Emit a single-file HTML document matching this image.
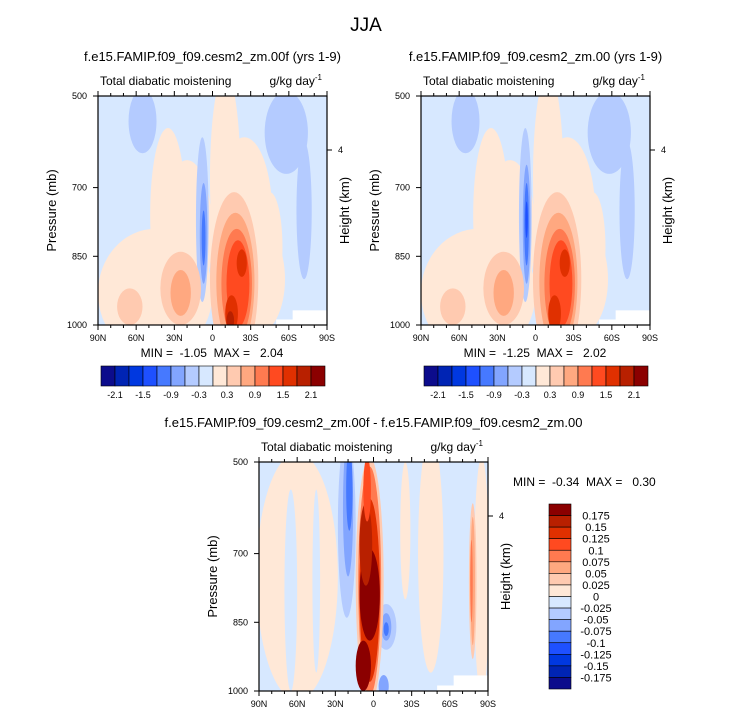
<!DOCTYPE html>
<html><head><meta charset="utf-8">
<style>
body{margin:0;background:#fff;}
svg{display:block;font-family:"Liberation Sans",sans-serif;}
</style></head>
<body>
<svg id="fig" width="733" height="716" viewBox="0 0 733 716">
<text x="366" y="31" font-size="19" text-anchor="middle">JJA</text>
</svg>
<script>
const NS='http://www.w3.org/2000/svg';
const fig=document.getElementById('fig');
const levelColors=['#0c0c8c','#0024b4','#0038e0','#1e50ff','#4679ff','#82a5ff','#b4cbff','#d7e8ff','#ffe8d7','#ffcab0','#ffa880','#ff7a50','#ff4a20','#e03000','#b82000','#8b0000'];
const topLabels=['-2.1','-1.5','-0.9','-0.3','0.3','0.9','1.5','2.1'];
const diffLabels=['0.175','0.15','0.125','0.1','0.075','0.05','0.025','0','-0.025','-0.05','-0.075','-0.1','-0.125','-0.15','-0.175'];
const latTicks=[90,60,30,0,-30,-60,-90];
const latTickLabels=['90N','60N','30N','0','30S','60S','90S'];
const presTicks=[500,700,850,1000];
// blobs: [lat, pressure, halfWidthDeg, halfHeightMb, level]
const blobsA=[[45,930,45,140,8],[35,760,14,190,8],[20,800,20,160,8],[-10,680,12,230,8],[-35,900,22,120,8],[-25,760,22,170,8],[-45,830,10,120,8],
[55,555,11,70,6],[-58,580,17,90,6],[-72,750,6,150,6],[8,770,5,180,6],[7,800,3,110,5],[7,810,1.5,60,4],
[25,920,16,80,9],[65,960,10,40,9],[25,930,8,50,10],[-17,900,19,190,9],[-18,905,15,150,10],[-19,910,12,120,11],[-20,910,9,95,12],[-23,865,4,30,13],[-15,975,5,40,13],[-14,990,3,20,14]];
const blobsB=[[45,930,45,140,8],[35,760,14,190,8],[20,800,20,160,8],[-10,680,12,230,8],[-35,900,22,120,8],[-25,760,22,170,8],[-45,830,10,120,8],
[55,555,11,70,6],[-58,580,17,90,6],[-72,750,6,150,6],[8,760,5,190,6],[7,780,3,130,5],[7,780,1.8,90,4],[7,770,1,40,3],
[25,920,16,80,9],[65,960,10,40,9],[25,930,8,50,10],[-17,900,19,190,9],[-18,905,15,150,10],[-19,910,12,120,11],[-20,910,9,95,12],[-23,865,4,30,13],[-15,975,5,40,13]];
const blobsD=[[60,750,32,270,8],[-45,700,10,260,8],[-85,750,6,260,8],[-25,650,4,150,8],
[65,780,5,220,7],[45,760,3,200,7],
[21,640,7,200,6],[20,600,4,150,5],[19,560,2.5,90,4],[-10,860,8,50,6],[-10,860,4,30,5],[-10,865,2,15,4],[-8,990,4,25,5],
[-78,760,3,170,9],[-78,760,1.8,140,10],[-77,760,1,90,11],
[3,760,11,270,9],[3,760,9,250,11],[3,780,8,200,13],[3,790,8,100,15],[6,680,5,90,14],[5,560,3,70,12],[8,945,6,55,15]];

function el(tag,attrs,parent,txt){const e=document.createElementNS(NS,tag);for(const k in attrs)e.setAttribute(k,attrs[k]);if(txt!==undefined)e.textContent=txt;(parent||fig).appendChild(e);return e;}

function panel(id,x0,y0,w,h,bg,blobs,whiteSteps,title,heightTickY){
  const xs=lat=>x0+(90-lat)/180*w;
  const ys=p=>y0+(p-500)/500*h;
  const g=el('g',{});
  
  
  const cp=el('clipPath',{id:id+'clip'},g);el('rect',{x:x0,y:y0,width:w,height:h},cp);
  const plot=el('g',{'clip-path':'url(#'+id+'clip)'},g);
  
  
  el('rect',{x:x0,y:y0,width:w,height:h,fill:levelColors[bg]},plot);
  blobs.forEach(b=>{
    const cx=xs(b[0]),cy=ys(b[1]),rx=b[2]/180*w,ry=b[3]/500*h;
    const e=el('ellipse',{cx:cx,cy:cy,rx:rx,ry:ry,fill:levelColors[b[4]]},plot);
    
    
  });
  whiteSteps.forEach(s=>el('rect',{x:xs(s[0]),y:ys(s[1]),width:xs(-90)-xs(s[0]),height:ys(1000)-ys(s[1]),fill:'#fff'},plot));
  el('rect',{x:x0,y:y0,width:w,height:h,fill:'none',stroke:'#000','stroke-width':1.2},g);
  for(let l=90;l>=-90;l-=10){const x=xs(l),maj=l%30===0;
    el('line',{x1:x,x2:x,y1:y0,y2:y0-(maj?5:3),stroke:'#000'},g);
    el('line',{x1:x,x2:x,y1:y0+h,y2:y0+h+(maj?5:3),stroke:'#000'},g);}
  latTicks.forEach((l,i)=>{const t=el('text',{x:xs(l),y:y0+h+16,'font-size':9,'text-anchor':'middle'},g,latTickLabels[i]);
    });
  presTicks.forEach(p=>{el('line',{x1:x0,x2:x0-5,y1:ys(p),y2:ys(p),stroke:'#000'},g);
    const t=el('text',{x:x0-11,y:ys(p)+3,'font-size':9,'text-anchor':'end'},g,String(p));
    });
  el('line',{x1:x0+w,x2:x0+w+5,y1:heightTickY,y2:heightTickY,stroke:'#000'},g);
  el('text',{x:x0+w+11,y:heightTickY+3,'font-size':9},g,'4');
  const yl=el('text',{x:0,y:0,'font-size':13,'text-anchor':'middle',transform:`translate(${x0-42},${y0+h/2}) rotate(-90)`},g,'Pressure (mb)');
  
  const hl=el('text',{x:0,y:0,'font-size':13,'text-anchor':'middle',transform:`translate(${x0+w+22},${y0+h/2}) rotate(-90)`},g,'Height (km)');
  
  const tt=el('text',{x:x0+w/2,y:y0-35,'font-size':13,'text-anchor':'middle'},g,title);
  
  el('text',{x:x0+2,y:y0-11,'font-size':12},g,'Total diabatic moistening');
  const u=el('text',{x:x0+w-5,y:y0-11,'font-size':12,'text-anchor':'end'},g);
  u.innerHTML='g/kg day<tspan dy="-5" font-size="8">-1</tspan>';
  return {xs,ys};
}
function hbar(x0,y0,bw,bh){
  const g=el('g',{});
  levelColors.forEach((c,i)=>el('rect',{x:x0+i*bw,y:y0,width:bw,height:bh,fill:c,stroke:'#000','stroke-width':0.6},g));
  topLabels.forEach((t,i)=>el('text',{x:x0+(2*i+1)*bw,y:y0+bh+12,'font-size':9,'text-anchor':'middle'},g,t));
}
const S='\u00a0';
panel('left',98,96,229,229,7,blobsA,[[-50,988],[-63,968]],'f.e15.FAMIP.f09_f09.cesm2_zm.00f (yrs 1-9)',150);
el('text',{x:212,y:357,'font-size':12,'text-anchor':'middle'},fig,'MIN ='+S+S+'-1.05'+S+S+'MAX ='+S+S+S+'2.04');
hbar(101,366,14,20);
panel('right',421,96,229,229,7,blobsB,[[-50,988],[-63,968]],'f.e15.FAMIP.f09_f09.cesm2_zm.00 (yrs 1-9)',150);
el('text',{x:535,y:357,'font-size':12,'text-anchor':'middle'},fig,'MIN ='+S+S+'-1.25'+S+S+'MAX ='+S+S+S+'2.02');
hbar(424,366,14,20);
panel('diff',259,462,229,229,7,blobsD,[[-50,988],[-63,966]],'f.e15.FAMIP.f09_f09.cesm2_zm.00f - f.e15.FAMIP.f09_f09.cesm2_zm.00',516);
el('text',{x:513,y:486,'font-size':12},fig,'MIN ='+S+S+'-0.34'+S+S+'MAX ='+S+S+S+'0.30');
(function(){const g=el('g',{});
  const bh=185/16;
  levelColors.slice().reverse().forEach((c,i)=>el('rect',{x:549,y:504+i*bh,width:22,height:bh,fill:c,stroke:'#000','stroke-width':0.6},g));
  diffLabels.forEach((t,i)=>el('text',{x:596,y:504+(i+1)*bh+4,'font-size':11,'text-anchor':'middle'},g,t));
})();
</script>
</body></html>
